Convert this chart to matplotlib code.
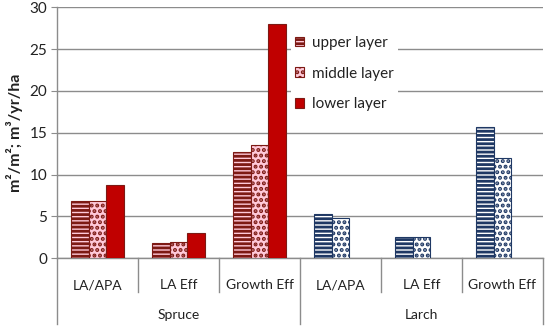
import matplotlib
matplotlib.use("Agg")
import matplotlib.pyplot as plt
import matplotlib.transforms as mtransforms
import numpy as np
from matplotlib.patches import Patch

plt.rcParams['font.family'] = ['Lato', 'DejaVu Sans']
plt.rcParams['hatch.linewidth'] = 2.0

categories = ["LA/APA", "LA Eff", "Growth Eff", "LA/APA", "LA Eff", "Growth Eff"]
groups = ["Spruce", "Larch"]
layers = ["upper layer", "middle layer", "lower layer"]

upper = [6.8, 1.8, 12.7, 5.3, 2.6, 15.7]
middle = [6.8, 1.9, 13.5, 4.8, 2.5, 12.0]
lower = [8.8, 3.0, 28.0, 0, 0, 0]

yticks = [0, 5, 10, 15, 20, 25, 30]

red_dark = '#7d1a14'
pink = '#ffc9d9'
red_solid = '#c00000'
navy = '#1f3864'
txt = '#222222'
gray = '#8c8c8c'

fig = plt.figure(figsize=(5.5, 3.29), dpi=100)
ax = fig.add_axes([57/550, 1-258.3/329, (543-57)/550, 251/329])

x = np.arange(len(categories))
w = 0.222
n_spruce = 3

for i in range(len(categories)):
    spruce = i < n_spruce
    ec = red_dark if spruce else navy
    fc = pink if spruce else 'white'
    ax.bar(x[i] - w, upper[i], w, facecolor=fc, edgecolor=ec, hatch='----', linewidth=0.8, zorder=3)
    ax.bar(x[i], middle[i], w, facecolor=fc, edgecolor=ec, hatch='...', linewidth=0.8, zorder=3)
    if lower[i] > 0:
        ax.bar(x[i] + w, lower[i], w, facecolor=red_solid, edgecolor=red_dark, linewidth=0.8, zorder=3)

ax.set_xlim(-0.5, len(categories) - 0.5)
ax.set_ylim(0, 30)
ax.set_yticks(yticks)
ax.yaxis.grid(True, color=gray, linewidth=1.0, zorder=0)
ax.set_axisbelow(True)
for s in ['top', 'right']:
    ax.spines[s].set_visible(False)
for s in ['left', 'bottom']:
    ax.spines[s].set_color(gray)
    ax.spines[s].set_linewidth(1.0)
ax.tick_params(axis='y', length=4, color=gray, labelsize=11, pad=3, labelcolor=txt)
ax.tick_params(axis='x', length=0, labelsize=10, pad=15, labelcolor=txt)
ax.set_xticks(x)
ax.set_xticklabels(categories)

ax.set_ylabel("m²/m²; m³/yr/ha", fontsize=11.5, fontweight='bold', labelpad=5, color=txt)

trans = mtransforms.blended_transform_factory(ax.transData, ax.transAxes)
short = -33.7/251
long_ = -66/251
for b in [0.5, 1.5, 3.5, 4.5]:
    ax.plot([b, b], [0, short], transform=trans, color=gray, lw=1.0, clip_on=False)
for b in [-0.5, 2.5, 5.5]:
    ax.plot([b, b], [0, long_], transform=trans, color=gray, lw=1.0, clip_on=False)

for gi, g in enumerate(groups):
    ax.text(1 + 3*gi, -57/251, g, transform=trans, ha='center', va='center', fontsize=10, color=txt)

handles = [
    Patch(facecolor=pink, edgecolor=red_dark, hatch='----', lw=0.8),
    Patch(facecolor=pink, edgecolor=red_dark, hatch='...', lw=0.8),
    Patch(facecolor=red_solid, edgecolor=red_dark, lw=0.8),
]
leg = ax.legend(handles, layers, loc='upper left', bbox_to_anchor=(226/486, 0.935),
                frameon=True, fontsize=11, handlelength=0.6, handleheight=0.6,
                handletextpad=0.5, labelspacing=1.1, borderpad=0.3)
leg.get_frame().set_edgecolor('none')
leg.get_frame().set_facecolor('white')
leg.get_frame().set_alpha(1)
for t in leg.get_texts():
    t.set_color(txt)

fig.savefig("out.png", dpi=100)
